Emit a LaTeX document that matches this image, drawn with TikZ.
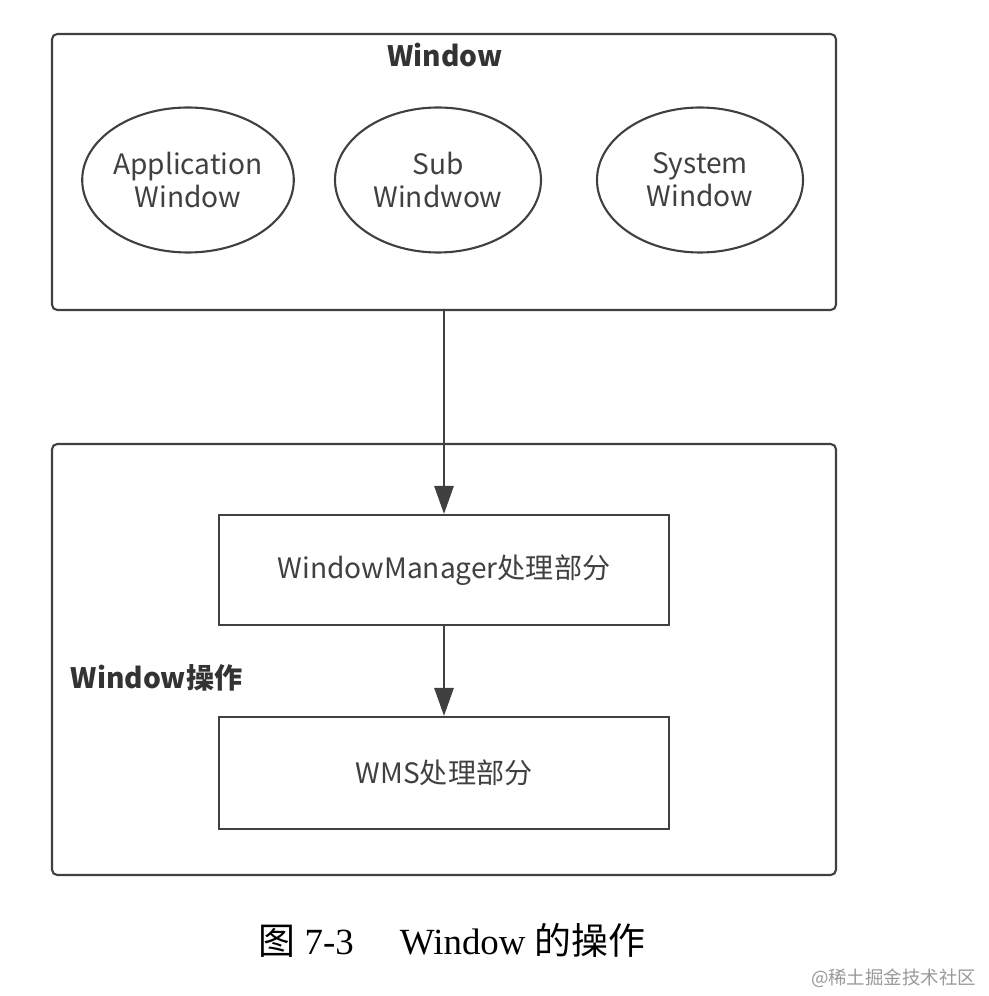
\documentclass[tikz,border=0pt]{standalone}
\usepackage{fontspec}
\setmainfont{Liberation Serif}
\newfontfamily\cjk{Noto Sans CJK SC}
\usetikzlibrary{arrows.meta, positioning, shapes.geometric}

\begin{document}
\begin{tikzpicture}[
    x=0.02cm, y=-0.02cm,
    line width=1.2pt,
    >={Triangle[width=11pt,length=16pt]},
    groupbox/.style={rectangle, draw=black!75, rounded corners=3pt, minimum width=784*0.02cm},
    winnode/.style={ellipse, draw=black!75, minimum width=206*0.02cm, minimum height=145*0.02cm,
        inner sep=0pt, align=center, font=\cjk\fontsize{16}{19}\selectfont, text=black!75},
    procnode/.style={rectangle, draw=black!75, minimum width=450*0.02cm, minimum height=110*0.02cm,
        font=\cjk\fontsize{16}{19}\selectfont, text=black!75},
    titlelabel/.style={font=\cjk\bfseries\fontsize{16}{19}\selectfont, text=black!80},
    conn/.style={->, draw=black!75, fill=black!75}
]
\useasboundingbox (0,0) rectangle (988,996);

% X positions
\def\xmid{444}

% ---------- Window group ----------
\node[groupbox, minimum height=276*0.02cm] (top) at (444,172) {};
\node[titlelabel] (toptitle) at (445,55) {Window};

\node[winnode] (app) at (188,180) {Application\\Window};
\node[winnode] (sub) at (438,180) {Sub\\Windwow};
\node[winnode] (sys) at (700,180) {System\\Window};

% ---------- Window operation group ----------
\node[groupbox, minimum height=431*0.02cm] (bottom) at (444,659.5) {};
\node[titlelabel, anchor=west] (optitle) at (64,678) {Window操作};

\node[procnode] (wm) at (\xmid,570) {WindowManager处理部分};
\node[procnode, minimum height=112*0.02cm] (wms) at (\xmid,773) {WMS处理部分};

% ---------- Connections ----------
\draw[conn] (top.south -| wm.north) -- (wm.north);
\draw[conn] (wm) -- (wms);

% ---------- Caption ----------
\node[font=\fontsize{21}{24}\selectfont] (caption) at (452,940) {{\cjk 图} 7-3\quad\ Window {\cjk 的操作}};
\node[font=\cjk\fontsize{10.5}{13}\selectfont, text=black!40, anchor=east] (mark) at (983,978) {@稀土掘金技术社区};

\end{tikzpicture}
\end{document}
